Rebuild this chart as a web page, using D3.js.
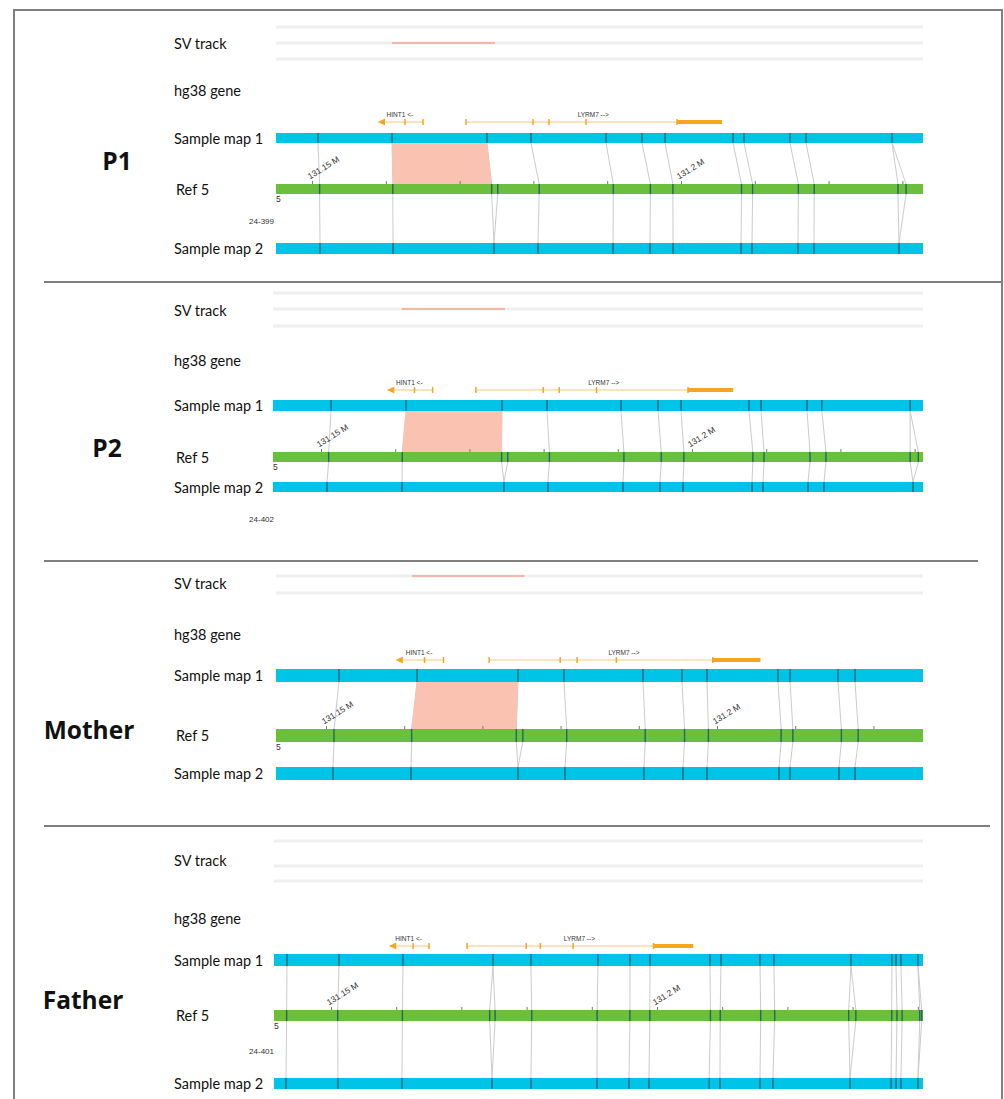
<!DOCTYPE html>
<html>
<head>
<meta charset="utf-8">
<script src="https://cdn.jsdelivr.net/npm/d3@7"></script>
<style>
  body { margin: 0; background: #fff; }
  svg { display: block; }
  .track-label { font-family: Lato, "Open Sans", sans-serif; font-size: 14.5px; fill: #111; }
  .panel-name { font-family: "Open Sans", Lato, sans-serif; font-size: 24.5px; font-weight: 700; fill: #111; }
  .small { font-family: "Liberation Sans", Arial, sans-serif; fill: #333; }
</style>
</head>
<body>
<svg id="chart" width="1004" height="1099"></svg>
<script>
// ---- Reference (chr5, Mb) in-silico labels ----
const refLabels = [131.1432, 131.15103, 131.16095, 131.17434, 131.17517, 131.18078, 131.19082,
  131.19585, 131.1989, 131.2082, 131.2097, 131.2159, 131.21805, 131.2294, 131.2305,
  131.236, 131.2368, 131.2376, 131.2403, 131.2406];
const refTickStep = 0.01;               // Mb between ticks
const refTickLabels = [131.15, 131.2];  // ticks that carry a label

// ---- hg38 genes ----
const geneNames = ["HINT1 <-", "LYRM7 -->"];
const geneStart = [131.15894, 131.17087];
const geneEnd = [131.16504, 131.20556];
const geneThickStart = [null, 131.19946];
const geneStrand = ["-", "+"];
const geneExons = [[131.1626, 131.16504], [131.17087, 131.17995, 131.18211, 131.18713, 131.19946]];
const geneLabelAt = [131.1619, 131.1881];

// ---- Sample P1 (24-399) ----
const p1Window = [131.14512, 131.23279];
const p1Sv = [131.16084, 131.1748];
const p1Map1 = [131.15081, 131.16084, 131.17371, 131.17967, 131.18984, 131.19472, 131.19783,
  131.20705, 131.20854, 131.21477, 131.21694, 131.22859];
const p1Map1Ref = [[1], [2], [3], [5], [6], [7], [8], [9], [10], [11], [12], [13, 14]];
const p1Map2 = [131.15108, 131.16098, 131.17466, 131.18062, 131.19079, 131.1958, 131.19892,
  131.20813, 131.20962, 131.21585, 131.21802, 131.22954];
const p1Map2Ref = [[1], [2], [3, 4], [5], [6], [7], [8], [9], [10], [11], [12], [13, 14]];

// ---- Sample P2 (24-402) ----
const p2Window = [131.14353, 131.23113];
const p2Sv = [131.1609, 131.1748];
const p2Map1 = [131.15135, 131.16146, 131.17439, 131.18046, 131.19043, 131.19542, 131.19852,
  131.20768, 131.2093, 131.2155, 131.2175, 131.2294];
const p2Map1Ref = [[1], [2], [3], [5], [6], [7], [8], [9], [10], [11], [12], [13, 14]];
const p2Map2 = [131.15081, 131.16092, 131.17466, 131.18059, 131.1907, 131.19569, 131.19879,
  131.20809, 131.20957, 131.21563, 131.21779, 131.22978];
const p2Map2Ref = [[1], [2], [3, 4], [5], [6], [7], [8], [9], [10], [11], [12], [13, 14]];

// ---- Mother ----
const motherWindow = [131.14361, 131.22634];
const motherSv = [131.161, 131.1754];
const motherMap1 = [131.15166, 131.16164, 131.17455, 131.18043, 131.19054, 131.19552, 131.19872,
  131.2078, 131.20934, 131.21547, 131.21765];
const motherMap1Ref = [[1], [2], [3], [5], [6], [7], [8], [9], [10], [11], [12]];
const motherMap2 = [131.1509, 131.16087, 131.17455, 131.18056, 131.19066, 131.19565, 131.19872,
  131.20793, 131.20934, 131.2156, 131.21765];
const motherMap2Ref = [[1], [2], [3, 4], [5], [6], [7], [8], [9], [10], [11], [12]];

// ---- Father (24-401) ----
const fatherWindow = [131.14126, 131.2408];
const fatherSv = null;
const fatherMap1 = [131.14325, 131.15123, 131.16104, 131.17485, 131.18067, 131.19095, 131.19586,
  131.19893, 131.20813, 131.20982, 131.2158, 131.21794, 131.22975, 131.23604, 131.23666,
  131.23742, 131.24003];
const fatherMap1Ref = [[0], [1], [2], [3, 4], [5], [6], [7], [8], [9], [10], [11], [12], [13, 14],
  [15], [16], [17], [18, 19]];
const fatherMap2 = [131.1431, 131.15107, 131.16089, 131.1747, 131.18067, 131.1908, 131.19571,
  131.19877, 131.208, 131.20966, 131.2158, 131.21779, 131.2296, 131.2359, 131.23666,
  131.23742, 131.24003];
const fatherMap2Ref = [[0], [1], [2], [3, 4], [5], [6], [7], [8], [9], [10], [11], [12], [13, 14],
  [15], [16], [17], [18, 19]];

// ---- panel layout ----
const panels = [
  { name: "P1", nameX: 117, nameY: 170, sampleId: "24-399", idY: 221,
    window: p1Window, sv: p1Sv, map1: p1Map1, map1Ref: p1Map1Ref, map2: p1Map2, map2Ref: p1Map2Ref,
    gap: [1, 2], x0: 276,
    svLines: [27, 43, 59], svRow: 1, svLabelY: 43, geneLabelY: 90, geneY: 122,
    m1: [133, 143], ref: [184, 194], m2: [243, 254] },
  { name: "P2", nameX: 107, nameY: 457, sampleId: "24-402", idY: 519,
    window: p2Window, sv: p2Sv, map1: p2Map1, map1Ref: p2Map1Ref, map2: p2Map2, map2Ref: p2Map2Ref,
    gap: [1, 2], x0: 273,
    svLines: [293, 309, 326], svRow: 1, svLabelY: 310, geneLabelY: 360, geneY: 390,
    m1: [400, 411], ref: [452, 462], m2: [482, 492] },
  { name: "Mother", nameX: 89, nameY: 739, sampleId: null,
    window: motherWindow, sv: motherSv, map1: motherMap1, map1Ref: motherMap1Ref, map2: motherMap2, map2Ref: motherMap2Ref,
    gap: [1, 2], x0: 276,
    svLines: [576, 593], svRow: 0, svLabelY: 583, geneLabelY: 634, geneY: 660,
    m1: [669, 682], ref: [729, 742], m2: [767, 780] },
  { name: "Father", nameX: 83, nameY: 1009, sampleId: "24-401", idY: 1051,
    window: fatherWindow, sv: fatherSv, map1: fatherMap1, map1Ref: fatherMap1Ref, map2: fatherMap2, map2Ref: fatherMap2Ref,
    gap: null, x0: 274,
    svLines: [841, 866, 881], svRow: 0, svLabelY: 860, geneLabelY: 918, geneY: 946,
    m1: [954, 966], ref: [1010, 1021], m2: [1078, 1089] }
];

const colors = {
  map: "#00c3e8", ref: "#6bbf3c", mark: "#1b5866", align: "#cbcbcb",
  gap: "#f9c2b1", sv: "#f0a595", svRow: "#efefef", gene: "#f5a51f", geneLine: "#f2c97f"
};

const svg = d3.select("#chart");

// frame and separators
svg.append("rect").attr("x", 14).attr("y", 10).attr("width", 988).attr("height", 1110)
  .attr("fill", "none").attr("stroke", "#7f7f7f").attr("stroke-width", 2);
[[282, 1001], [561, 978], [826, 990]].forEach(([y, xEnd]) => {
  svg.append("line").attr("x1", 44).attr("x2", xEnd).attr("y1", y).attr("y2", y)
    .attr("stroke", "#7f7f7f").attr("stroke-width", 2);
});

panels.forEach(p => {
  const x = d3.scaleLinear().domain(p.window).range([p.x0, 923]);
  const inView = v => v >= p.window[0] && v <= p.window[1];
  const g = svg.append("g");

  // titles
  g.append("text").attr("class", "panel-name").attr("x", p.nameX).attr("y", p.nameY)
    .attr("text-anchor", "middle").text(p.name);
  const labels = [["SV track", p.svLabelY, 174], ["hg38 gene", p.geneLabelY, 174],
    ["Sample map 1", (p.m1[0] + p.m1[1]) / 2, 174], ["Ref 5", (p.ref[0] + p.ref[1]) / 2, 176],
    ["Sample map 2", (p.m2[0] + p.m2[1]) / 2, 174]];
  labels.forEach(([t, y, lx]) => g.append("text").attr("class", "track-label")
    .attr("x", lx).attr("y", y).attr("dominant-baseline", "central").text(t));

  // SV track rows
  p.svLines.forEach(y => g.append("line").attr("x1", p.x0).attr("x2", 923)
    .attr("y1", y).attr("y2", y).attr("stroke", colors.svRow).attr("stroke-width", 3));
  if (p.sv) {
    g.append("line").attr("x1", x(p.sv[0])).attr("x2", x(p.sv[1]))
      .attr("y1", p.svLines[p.svRow]).attr("y2", p.svLines[p.svRow])
      .attr("stroke", colors.sv).attr("stroke-width", 1.5);
  }

  // genes
  geneNames.forEach((name, i) => {
    const gy = p.geneY;
    const thinEnd = geneThickStart[i] !== null ? geneThickStart[i] : geneEnd[i];
    g.append("line").attr("x1", x(geneStart[i])).attr("x2", x(thinEnd)).attr("y1", gy).attr("y2", gy)
      .attr("stroke", colors.geneLine).attr("stroke-width", 1.2);
    if (geneThickStart[i] !== null) {
      g.append("rect").attr("x", x(geneThickStart[i])).attr("y", gy - 2)
        .attr("width", x(geneEnd[i]) - x(geneThickStart[i])).attr("height", 4).attr("fill", colors.gene);
    }
    geneExons[i].forEach(e => g.append("line").attr("x1", x(e)).attr("x2", x(e))
      .attr("y1", gy - 3).attr("y2", gy + 3).attr("stroke", colors.gene).attr("stroke-width", 1.5));
    if (geneStrand[i] === "-") {
      const sx = x(geneStart[i]);
      g.append("path").attr("d", `M${sx},${gy} L${sx + 7},${gy - 3.5} L${sx + 7},${gy + 3.5} Z`)
        .attr("fill", colors.gene);
    }
    g.append("text").attr("class", "small").attr("x", x(geneLabelAt[i])).attr("y", gy - 5)
      .attr("text-anchor", "middle").attr("font-size", 6.5).attr("fill", "#222").text(name);
  });

  // alignment lines (drawn under the bars)
  const refIn = refLabels.map(inView);
  const alignG = g.append("g").attr("stroke", colors.align).attr("stroke-width", 1).attr("fill", "none");
  p.map1.forEach((m, i) => p.map1Ref[i].forEach(r => {
    if (!refIn[r]) return;
    alignG.append("line").attr("x1", x(m)).attr("y1", p.m1[1]).attr("x2", x(refLabels[r])).attr("y2", p.ref[0]);
  }));
  p.map2.forEach((m, i) => p.map2Ref[i].forEach(r => {
    if (!refIn[r]) return;
    alignG.append("line").attr("x1", x(refLabels[r])).attr("y1", p.ref[1]).attr("x2", x(m)).attr("y2", p.m2[0]);
  }));

  // deletion region between the two flanking aligned labels
  if (p.gap) {
    const [a, b] = p.gap;
    const ra = refLabels[p.map1Ref[a][0]], rb = refLabels[p.map1Ref[b][0]];
    const pts = [[x(p.map1[a]), p.m1[1]], [x(p.map1[b]), p.m1[1]], [x(rb), p.ref[0]], [x(ra), p.ref[0]]];
    g.append("path").attr("d", d3.line()(pts) + "Z").attr("fill", colors.gap).attr("stroke", "none");
  }

  // bars
  const bar = (y, c) => g.append("rect").attr("x", p.x0).attr("y", y[0]).attr("width", 923 - p.x0)
    .attr("height", y[1] - y[0]).attr("fill", c);
  bar(p.m1, colors.map);
  bar(p.ref, colors.ref);
  bar(p.m2, colors.map);

  const marks = (vals, y) => g.append("g").selectAll("line").data(vals.filter(inView)).join("line")
    .attr("x1", d => x(d)).attr("x2", d => x(d)).attr("y1", y[0]).attr("y2", y[1])
    .attr("stroke", colors.mark).attr("stroke-width", 1.4).attr("opacity", 0.85);
  marks(p.map1, p.m1);
  marks(refLabels, p.ref);
  marks(p.map2, p.m2);

  // reference coordinate axis
  const tickVals = d3.range(Math.ceil(p.window[0] / refTickStep - 1e-6), Math.floor(p.window[1] / refTickStep + 1e-6) + 1)
    .map(k => +(k * refTickStep).toFixed(2));
  const axis = d3.axisTop(x).tickValues(tickVals).tickSize(3).tickPadding(2)
    .tickFormat(d => refTickLabels.some(v => Math.abs(v - d) < 1e-9) ? `${d} M` : "");
  const ax = g.append("g").attr("transform", `translate(0,${p.ref[0]})`).call(axis);
  ax.select(".domain").remove();
  ax.selectAll(".tick line").attr("stroke", "#777");
  ax.selectAll(".tick text").attr("class", "small").attr("font-size", 8.5).attr("fill", "#333")
    .attr("text-anchor", "start").attr("dy", 0).attr("y", -3)
    .attr("transform", "translate(-1,-2) rotate(-32)").attr("x", 0);

  // chromosome id and sample id
  g.append("text").attr("class", "small").attr("x", p.x0).attr("y", p.ref[1] + 8)
    .attr("font-size", 8.5).text("5");
  if (p.sampleId) {
    g.append("text").attr("class", "small").attr("x", 274).attr("y", p.idY)
      .attr("text-anchor", "end").attr("dominant-baseline", "central").attr("font-size", 8).text(p.sampleId);
  }
});
</script>
</body>
</html>
